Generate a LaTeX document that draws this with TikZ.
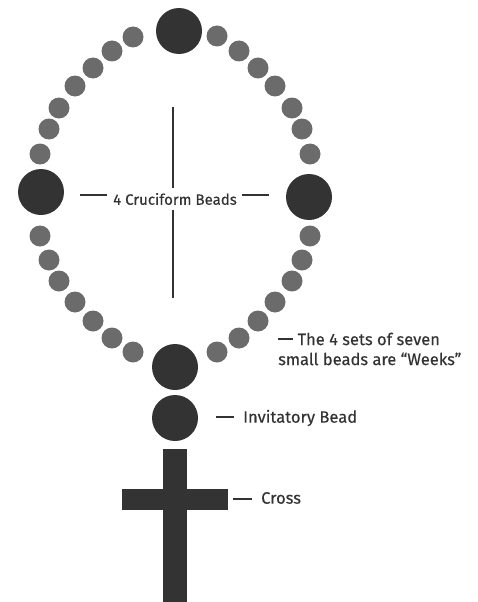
\documentclass[tikz,border=0pt]{standalone}
\usepackage{fontspec}
\setmainfont{Fira Sans}
\newfontfamily\lblfont{Fira Sans}[FakeBold=0.4]
\usetikzlibrary{positioning}
\definecolor{beaddark}{HTML}{333333}
\definecolor{beadgray}{HTML}{6B6B6B}

\tikzset{
    bigbead/.style={circle, fill=beaddark, minimum size=46pt, inner sep=0pt},
    smallbead/.style={circle, fill=beadgray, minimum size=21pt, inner sep=0pt},
    tickline/.style={draw=beaddark, line width=2.6pt},
    lbltext/.style={anchor=west, inner sep=0pt, text=beaddark, font=\lblfont\fontsize{16.5}{20}\selectfont, align=left}
}

\begin{document}
\begin{tikzpicture}[x=1pt, y=-1pt]

\useasboundingbox (0,0) rectangle (477,602);

% the four cruciform beads
\node[bigbead] (top)   at (179,31)  {};
\node[bigbead] (left)  at (41,192)  {};
\node[bigbead] (right) at (309,197) {};
\node[bigbead] (bottom) at (175,367) {};

% the weeks
\foreach \x/\y [count=\i] in {133/37, 112/51, 93/68, 75/86, 59/108, 49/129, 40/154}
    \node[smallbead] (wa\i) at (\x,\y) {};
\foreach \x/\y [count=\i] in {217/36, 239/51, 258/68, 275/86, 292/108, 302/129, 310/154}
    \node[smallbead] (wb\i) at (\x,\y) {};
\foreach \x/\y [count=\i] in {40/236, 49/260, 59/281, 75/302, 93/321, 112/338, 133/352}
    \node[smallbead] (wc\i) at (\x,\y) {};
\foreach \x/\y [count=\i] in {310/236, 302/260, 292/281, 275/302, 258/321, 239/338, 217/352}
    \node[smallbead] (wd\i) at (\x,\y) {};

% invitatory bead
\node[bigbead] (invit) at (175,418) {};

% cross
\fill[beaddark] (163,449) rectangle (187,602);
\fill[beaddark] (122,489) rectangle (228,510);

% cruciform label
\node[lbltext, anchor=center, font=\lblfont\fontsize{15}{18}\selectfont] (cruci) at (175,199) {4 Cruciform Beads};
\coordinate (vtop) at (173,107);
\coordinate (vmid1) at (173,188);
\coordinate (vmid2) at (173,210);
\coordinate (vbot) at (173,298);
\draw[tickline, line width=2.8pt] (vtop) -- (vmid1);
\draw[tickline, line width=2.8pt] (vmid2) -- (vbot);
\coordinate (hl1) at (80,195);
\coordinate (hl2) at (107,195);
\coordinate (hr1) at (242,195);
\coordinate (hr2) at (269,195);
\draw[tickline] (hl1) -- (hl2);
\draw[tickline] (hr1) -- (hr2);

% weeks label
\node[lbltext] (weeks) at (278,349)
    {\rule[0.3em]{15pt}{2.6pt}\ The 4 sets of seven\\small beads are “Weeks”};

% invitatory label
\node[lbltext] (invitlbl) at (243,418) {Invitatory Bead};
\coordinate (id1) at (216,417);
\coordinate (id2) at (234,417);
\draw[tickline] (id1) -- (id2);

% cross label
\node[lbltext] (crosslbl) at (261,498) {Cross};
\coordinate (cd1) at (233,499);
\coordinate (cd2) at (252,499);
\draw[tickline] (cd1) -- (cd2);

\end{tikzpicture}
\end{document}
